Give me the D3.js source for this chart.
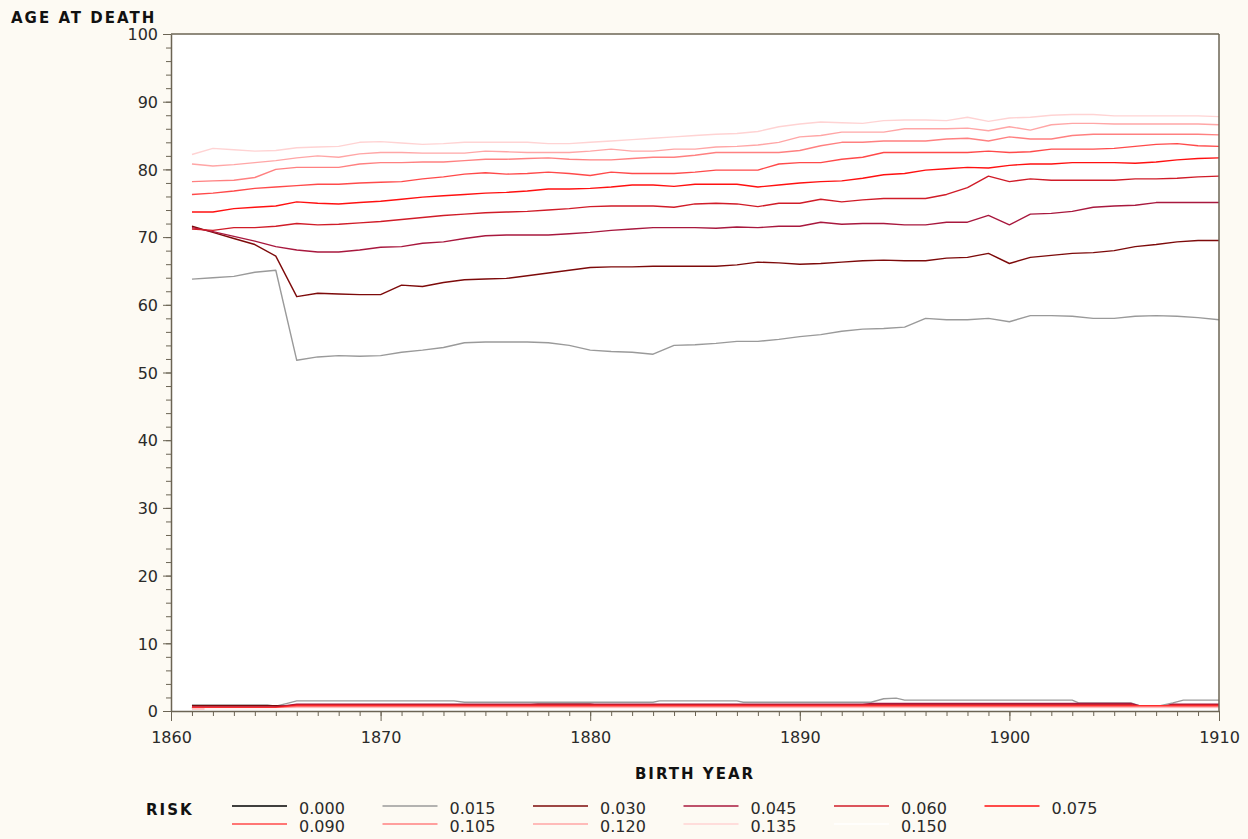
<!doctype html>
<html lang="en">
  <head>
    <meta charset="utf-8">
    <title>Age at death by birth year</title>
    <script src="https://d3js.org/d3.v7.min.js"></script>
    <style>
      body { margin: 0; background: #fdfaf3; }
      svg { display: block; font-family: "DejaVu Sans", Verdana, sans-serif; }
      .axis path, .axis line { stroke: #6b6454; }
      .axis text { fill: #2a2a2a; font-size: 16px; font-family: "DejaVu Sans", Verdana, sans-serif; }
      .title { font-weight: bold; font-size: 15px; letter-spacing: 2px; fill: #111; }
      .legend text { font-size: 16px; fill: #2a2a2a; }
    </style>
  </head>
  <body>
    <script>

      // birth years on the x axis
      var years = [1861,1862,1863,1864,1865,1866,1867,1868,1869,1870,
                   1871,1872,1873,1874,1875,1876,1877,1878,1879,1880,
                   1881,1882,1883,1884,1885,1886,1887,1888,1889,1890,
                   1891,1892,1893,1894,1895,1896,1897,1898,1899,1900,
                   1901,1902,1903,1904,1905,1906,1907,1908,1909,1910];

      var risks = ["0.000","0.015","0.030","0.045","0.060","0.075","0.090","0.105","0.120","0.135","0.150"];

      // age at death, one value per birth year
      var age015 = [63.8,64.0,64.2,64.8,65.1,51.8,52.3,52.5,52.4,52.5,
                    53.0,53.3,53.7,54.4,54.5,54.5,54.5,54.4,54.0,53.3,
                    53.1,53.0,52.7,54.0,54.1,54.3,54.6,54.6,54.9,55.3,
                    55.6,56.1,56.4,56.5,56.7,58.0,57.8,57.8,58.0,57.5,
                    58.4,58.4,58.3,58.0,58.0,58.3,58.4,58.3,58.1,57.8];
      var age030 = [71.6,70.7,69.8,68.9,67.2,61.2,61.7,61.6,61.5,61.5,
                    62.9,62.7,63.3,63.7,63.8,63.9,64.3,64.7,65.1,65.5,
                    65.6,65.6,65.7,65.7,65.7,65.7,65.9,66.3,66.2,66.0,
                    66.1,66.3,66.5,66.6,66.5,66.5,66.9,67.0,67.6,66.1,
                    67.0,67.3,67.6,67.7,68.0,68.6,68.9,69.3,69.5,69.5];
      var age045 = [71.4,70.8,70.1,69.4,68.6,68.1,67.8,67.8,68.1,68.5,
                    68.6,69.1,69.3,69.8,70.2,70.3,70.3,70.3,70.5,70.7,
                    71.0,71.2,71.4,71.4,71.4,71.3,71.5,71.4,71.6,71.6,
                    72.2,71.9,72.0,72.0,71.8,71.8,72.2,72.2,73.2,71.8,
                    73.4,73.5,73.8,74.4,74.6,74.7,75.1,75.1,75.1,75.1];
      var age060 = [71.2,71.0,71.4,71.4,71.6,72.0,71.8,71.9,72.1,72.3,
                    72.6,72.9,73.2,73.4,73.6,73.7,73.8,74.0,74.2,74.5,
                    74.6,74.6,74.6,74.4,74.9,75.0,74.9,74.5,75.0,75.0,
                    75.6,75.2,75.5,75.7,75.7,75.7,76.3,77.3,79.0,78.2,
                    78.6,78.4,78.4,78.4,78.4,78.6,78.6,78.7,78.9,79.0];
      var age075 = [73.7,73.7,74.2,74.4,74.6,75.2,75.0,74.9,75.1,75.3,
                    75.6,75.9,76.1,76.3,76.5,76.6,76.8,77.1,77.1,77.2,
                    77.4,77.7,77.7,77.5,77.8,77.8,77.8,77.4,77.7,78.0,
                    78.2,78.3,78.7,79.2,79.4,79.9,80.1,80.3,80.2,80.6,
                    80.8,80.8,81.0,81.0,81.0,80.9,81.1,81.4,81.6,81.7];
      var age090 = [76.3,76.5,76.8,77.2,77.4,77.6,77.8,77.8,78.0,78.1,
                    78.2,78.6,78.9,79.3,79.5,79.3,79.4,79.6,79.4,79.1,
                    79.6,79.4,79.4,79.4,79.6,79.9,79.9,79.9,80.8,81.0,
                    81.0,81.5,81.8,82.5,82.5,82.5,82.5,82.5,82.7,82.5,
                    82.6,83.0,83.0,83.0,83.1,83.4,83.7,83.8,83.5,83.4];
      var age105 = [78.2,78.3,78.4,78.8,80.0,80.3,80.3,80.3,80.8,81.0,
                    81.0,81.1,81.1,81.3,81.5,81.5,81.6,81.7,81.5,81.4,
                    81.4,81.6,81.8,81.8,82.1,82.5,82.5,82.5,82.5,82.8,
                    83.5,84.0,84.0,84.2,84.2,84.2,84.5,84.6,84.2,84.8,
                    84.5,84.5,85.0,85.2,85.2,85.2,85.2,85.2,85.2,85.1];
      var age120 = [80.8,80.5,80.7,81.0,81.3,81.7,82.0,81.8,82.3,82.5,
                    82.5,82.4,82.4,82.4,82.7,82.6,82.5,82.5,82.5,82.7,
                    83.0,82.7,82.7,83.0,83.0,83.3,83.4,83.6,84.0,84.8,
                    85.0,85.5,85.5,85.5,86.0,86.0,86.0,86.1,85.7,86.3,
                    85.8,86.6,86.8,86.8,86.7,86.7,86.7,86.7,86.7,86.6];
      var age135 = [82.2,83.1,82.9,82.7,82.8,83.2,83.3,83.4,84.0,84.1,
                    83.9,83.7,83.8,84.0,84.0,84.0,84.0,83.8,83.8,84.0,
                    84.2,84.4,84.6,84.8,85.0,85.2,85.3,85.6,86.3,86.7,
                    87.0,86.9,86.8,87.2,87.3,87.3,87.2,87.7,87.1,87.6,
                    87.7,88.0,88.1,88.1,87.9,87.9,87.9,87.9,87.9,87.8];

      // the low band just above zero, read as [birth year, value] breakpoints
      var low000 = [[1861,0.5],[1865,0.5],[1866,0.4],[1910,0.4]];
      var low015 = [[1861,0.9],[1864.6,0.9],[1865,0.7],[1865.5,1.1],[1866,1.5],[1873.5,1.5],[1874,1.3],
                    [1883,1.3],[1883.3,1.5],[1887,1.5],[1887.3,1.3],[1893.4,1.3],[1894,1.8],[1894.6,1.9],
                    [1895,1.6],[1903,1.6],[1903.3,1.2],[1905.8,1.2],[1906.2,0.8],[1907.2,0.8],[1907.8,1.2],
                    [1908.3,1.6],[1910,1.6]];
      var low030 = [[1861,0.8],[1865,0.8],[1865.6,0.7],[1866,0.9],[1877,0.9],[1877.5,1.0],[1880,1.0],
                    [1880.3,0.9],[1905.8,0.9],[1906.4,0.5],[1907.2,0.5],[1907.8,0.9],[1910,0.9]];
      var low045 = [[1861,0.6],[1865,0.6],[1866,1.0],[1893,1.0],[1893.5,1.1],[1905.8,1.1],[1906.4,0.6],
                    [1907.2,0.6],[1907.8,1.0],[1910,1.0]];
      var low060 = [[1861,0.55],[1865,0.55],[1866,0.9],[1905.8,0.9],[1906.4,0.6],[1907.2,0.6],[1907.8,0.9],[1910,0.9]];
      var low075 = [[1861,0.45],[1865,0.45],[1866,0.8],[1910,0.8]];
      var low090 = [[1861,0.4],[1865,0.4],[1866,0.7],[1910,0.7]];
      var low105 = [[1861,0.35],[1865,0.35],[1866,0.6],[1910,0.6]];
      var low120 = [[1861,0.3],[1865,0.3],[1866,0.5],[1910,0.5]];
      var low135 = [[1861,0.3],[1865,0.3],[1866,0.4],[1910,0.4]];
      var low150 = [[1861.6,0.3],[1865,0.3],[1866,0.3],[1910,0.3]];

      var upper = [null, age015, age030, age045, age060, age075, age090, age105, age120, age135, null];
      var lower = [low000, low015, low030, low045, low060, low075, low090, low105, low120, low135, low150];

      var color = d3.scaleOrdinal()
          .domain(risks)
          .range(["#000000","#9a9a9a","#7d0a0a","#a8183e","#d01c28","#ff1010",
                  "#ff4a4a","#ff8080","#ffa6a6","#ffd3d3","#ffffff"]);

      var W = 1248, H = 839;
      var margin = {top: 34, right: 29, bottom: 128, left: 171},
          width = W - margin.left - margin.right,
          height = H - margin.top - margin.bottom;

      var svg = d3.select("body").append("svg")
          .attr("width", W)
          .attr("height", H);

      var x = d3.scaleLinear().domain([1860, 1910]).range([0, width]);
      var y = d3.scaleLinear().domain([0, 100]).range([height, 0]);

      var g = svg.append("g")
          .attr("transform", "translate(" + margin.left + "," + margin.top + ")");

      g.append("rect")
          .attr("width", width)
          .attr("height", height)
          .attr("fill", "#ffffff");

      var line = d3.line()
          .x(function(d){ return x(d[0]); })
          .y(function(d){ return y(d[1]); });

      // low band first, then the upper curves
      risks.forEach(function(r, i){
        g.append("path")
            .datum(lower[i])
            .attr("fill", "none")
            .attr("stroke", color(r))
            .attr("stroke-width", 1.4)
            .attr("d", line);
      });

      risks.forEach(function(r, i){
        if (!upper[i]) return;
        g.append("path")
            .datum(years.map(function(yr, j){ return [yr, upper[i][j]]; }))
            .attr("fill", "none")
            .attr("stroke", color(r))
            .attr("stroke-width", 1.4)
            .attr("stroke-linejoin", "round")
            .attr("d", line);
      });

      // frame top and right
      g.append("line").attr("x1", 0).attr("x2", width).attr("y1", 0).attr("y2", 0)
          .attr("stroke", "#6b6454").attr("stroke-width", 1.5);
      g.append("line").attr("x1", width).attr("x2", width).attr("y1", 0).attr("y2", height)
          .attr("stroke", "#6b6454").attr("stroke-width", 1.5);

      // minor ticks
      g.append("g")
          .attr("class", "axis")
          .attr("transform", "translate(0," + height + ")")
          .call(d3.axisBottom(x).ticks(50).tickSize(5).tickFormat(""))
          .select(".domain").remove();
      g.append("g")
          .attr("class", "axis")
          .call(d3.axisLeft(y).ticks(50).tickSize(5).tickFormat(""))
          .select(".domain").remove();

      // major ticks
      var xAxis = g.append("g")
          .attr("class", "axis")
          .attr("transform", "translate(0," + height + ")")
          .call(d3.axisBottom(x).tickValues([1860,1870,1880,1890,1900,1910])
                .tickSize(10).tickSizeOuter(0).tickPadding(11).tickFormat(d3.format("d")));
      xAxis.select(".domain").attr("stroke-width", 1.5);

      var yAxis = g.append("g")
          .attr("class", "axis")
          .call(d3.axisLeft(y).ticks(10).tickSize(8).tickSizeOuter(0).tickPadding(5));
      yAxis.select(".domain").attr("stroke-width", 1.5);
      yAxis.selectAll(".tick text").attr("dy", "0.36em");

      svg.append("text").attr("class", "title")
          .attr("x", 11).attr("y", 23)
          .text("AGE AT DEATH");

      svg.append("text").attr("class", "title")
          .attr("x", margin.left + width / 2).attr("y", 779)
          .attr("text-anchor", "middle")
          .text("BIRTH YEAR");

      svg.append("text").attr("class", "title")
          .attr("x", 146).attr("y", 815)
          .text("RISK");

      // legend: two rows of six columns
      var legend = svg.append("g").attr("class", "legend");
      risks.forEach(function(r, i){
        var col = i % 6, row = Math.floor(i / 6);
        var lx = 232 + col * 150.5, ly = 806 + row * 18;
        var item = legend.append("g").attr("transform", "translate(" + lx + "," + ly + ")");
        item.append("line")
            .attr("x1", 0).attr("x2", 55)
            .attr("stroke", color(r))
            .attr("stroke-width", 1.5);
        item.append("text")
            .attr("x", 67).attr("y", 8)
            .text(r);
      });

    </script>
  </body>
</html>
